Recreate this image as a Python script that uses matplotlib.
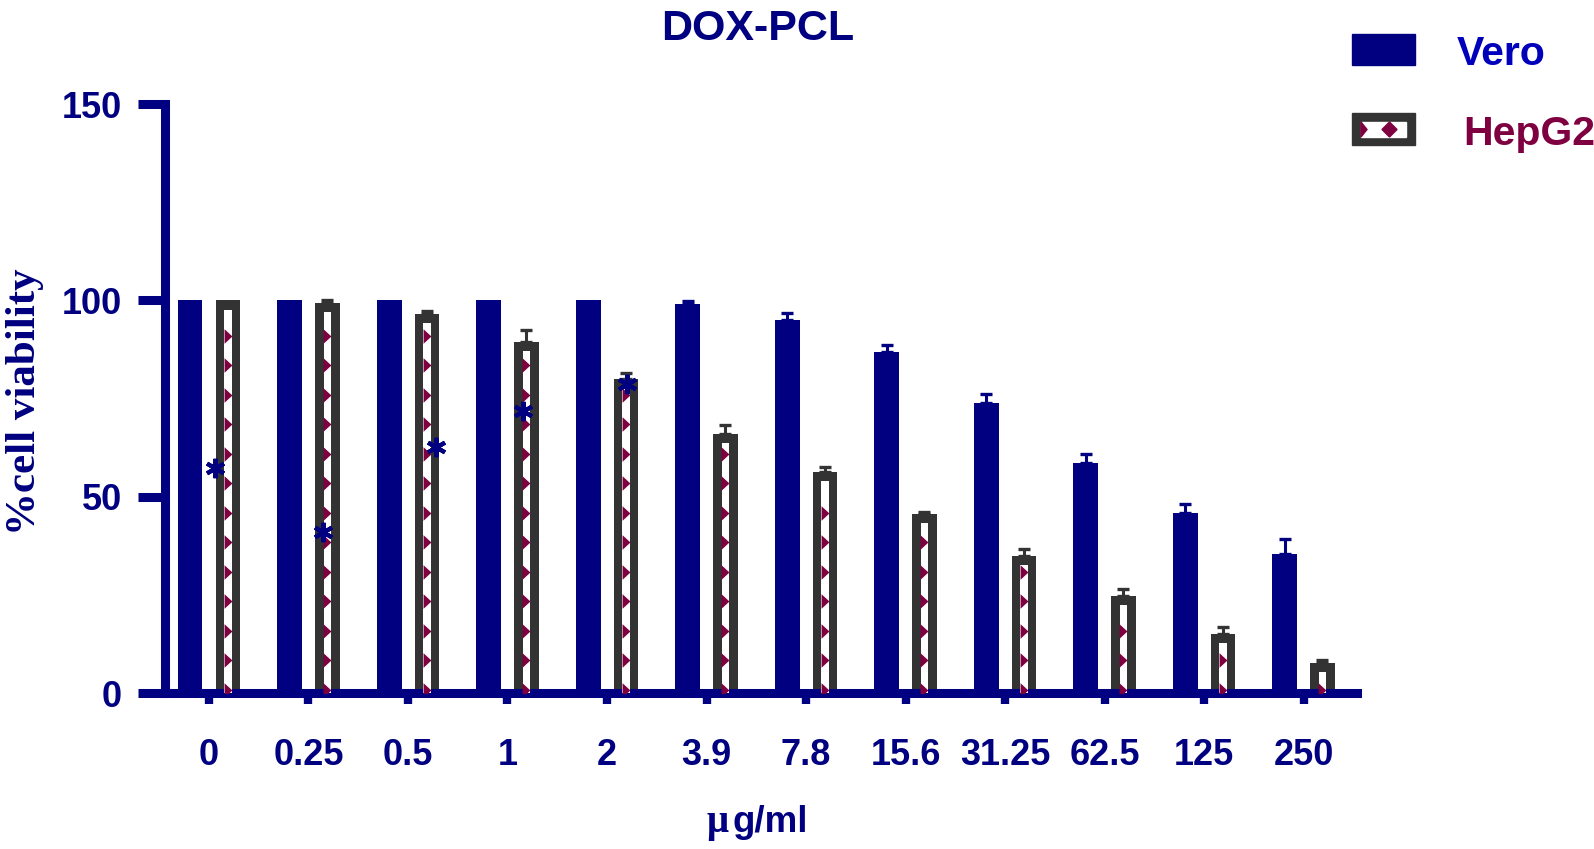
import matplotlib.pyplot as plt
import numpy as np
from matplotlib.patches import Rectangle, Polygon
from matplotlib.path import Path

plt.rcParams['font.family'] = ['Liberation Sans', 'DejaVu Sans']
plt.rcParams['font.weight'] = 'bold'

# data
doses = ['0', '0.25', '0.5', '1', '2', '3.9', '7.8', '15.6', '31.25', '62.5', '125', '250']
vero = [100, 100, 100, 100, 100, 99.2, 95, 87, 74, 58.7, 46, 35.5]
vero_err = [0, 0, 0, 0, 0, 0.6, 1.8, 1.8, 2.1, 2.3, 2.3, 3.7]
hepg2 = [100, 99.4, 96.5, 89.5, 80, 66, 56.3, 45.7, 35, 24.9, 15.1, 7.7]
hepg2_err = [0, 0.7, 0.9, 3.0, 1.6, 2.2, 1.4, 0.4, 1.8, 1.8, 1.8, 0.7]
star_x = [0.06, 1.15, 2.28, 3.16, 4.2]
star_y = [57.5, 41, 62.6, 71.8, 78.8]

navy = '#000080'
gray = '#333333'
maroon = '#7F0040'

W, H = 1594, 849
def fx(px):
    return px / W
def fy(py):
    return 1 - py / H

fig = plt.figure(figsize=(15.94, 8.49), dpi=100)
ax = fig.add_axes([0.1035, 0.1832, 0.748, 0.6943])

x = np.arange(len(doses))
off = 0.19

# Vero bars
ax.bar(x - off, vero, 0.25, color=navy, zorder=2)
ve = np.array(vero_err)
m = ve > 0
ax.errorbar(x[m] - off, np.array(vero)[m], yerr=[np.zeros(m.sum()), ve[m]], fmt='none',
            ecolor=navy, elinewidth=2.2, capsize=4.3, capthick=2.4, zorder=1)

# HepG2 bars: dark frame, white core, maroon triangles
ax.bar(x + off, hepg2, 0.245, color=gray, zorder=2)
inner = np.array(hepg2) - 2.3
ax.bar(x + off, inner, 0.075, color='white', zorder=3)
tri = Path([(-0.27, -0.5), (0.27, 0), (-0.27, 0.5), (-0.27, -0.5)],
           [Path.MOVETO, Path.LINETO, Path.LINETO, Path.CLOSEPOLY])
for i in range(len(doses)):
    ys = np.arange(1, inner[i] - 1.6, 7.5)
    ax.plot(np.full(len(ys), x[i] + off), ys, ls='none', marker=tri, ms=10.5,
            color=maroon, mew=0, zorder=4)
he = np.array(hepg2_err)
m = he > 0
ax.errorbar(x[m] + off, np.array(hepg2)[m], yerr=[np.zeros(m.sum()), he[m]], fmt='none',
            ecolor=gray, elinewidth=2.2, capsize=4.3, capthick=2.4, zorder=1)

# asterisks
ax.plot(star_x, star_y, ls='none', marker=(6, 2, 0), ms=14, mew=3, color=navy, zorder=5)

ax.set_xlim(-0.442, 11.54)
ax.set_ylim(0, 150)
ax.set_yticks([0, 50, 100, 150])
ax.set_xticks(x)
ax.set_xticklabels(doses)
for s in ['top', 'right']:
    ax.spines[s].set_visible(False)
for s in ['left', 'bottom']:
    ax.spines[s].set_color(navy)
    ax.spines[s].set_linewidth(6.5)
ax.tick_params(axis='y', length=19.5, width=6.5, color=navy, pad=11.5,
               labelsize=26, labelcolor=navy)
ax.tick_params(axis='x', length=8, width=6, color=navy, pad=24,
               labelsize=26, labelcolor=navy)

# titles and labels
fig.text(fx(758), fy(40), 'DOX-PCL', ha='center', va='baseline', fontsize=31,
         fontweight='bold', color=navy)
fig.text(fx(25), fy(402), '%cell viability', rotation=90, ha='center', va='center',
         family='Liberation Serif', fontsize=31, fontweight='bold', color=navy)
fig.text(fx(733), fy(832), 'g/ml', ha='left', va='baseline', fontsize=26.5,
         fontweight='bold', color=navy)
fig.text(fx(729), fy(832), 'μ', ha='right', va='baseline', family='Liberation Serif',
         fontsize=28, fontweight='bold', color=navy)

# legend
fig.add_artist(Rectangle((fx(1352), fy(65)), 63 / W, 31 / H, color=navy,
                         transform=fig.transFigure))
fig.add_artist(Rectangle((fx(1352), fy(145)), 63 / W, 32 / H, color=gray,
                         transform=fig.transFigure))
fig.add_artist(Rectangle((fx(1361), fy(137)), 45 / W, 15 / H, color='white',
                         transform=fig.transFigure))
fig.add_artist(Polygon([(fx(1361), fy(122)), (fx(1367), fy(129.5)), (fx(1361), fy(137))],
                       color=maroon, transform=fig.transFigure))
fig.add_artist(Polygon([(fx(1382), fy(129.5)), (fx(1389.5), fy(122)), (fx(1397), fy(129.5)),
                        (fx(1389.5), fy(137))], color=maroon, transform=fig.transFigure))
fig.text(fx(1457), fy(65), 'Vero', ha='left', va='baseline', fontsize=29.5,
         fontweight='bold', color='#0000BB')
fig.text(fx(1463), fy(145), 'HepG2', ha='left', va='baseline', fontsize=29.5,
         fontweight='bold', color=maroon)

fig.savefig('out.png', dpi=100)
